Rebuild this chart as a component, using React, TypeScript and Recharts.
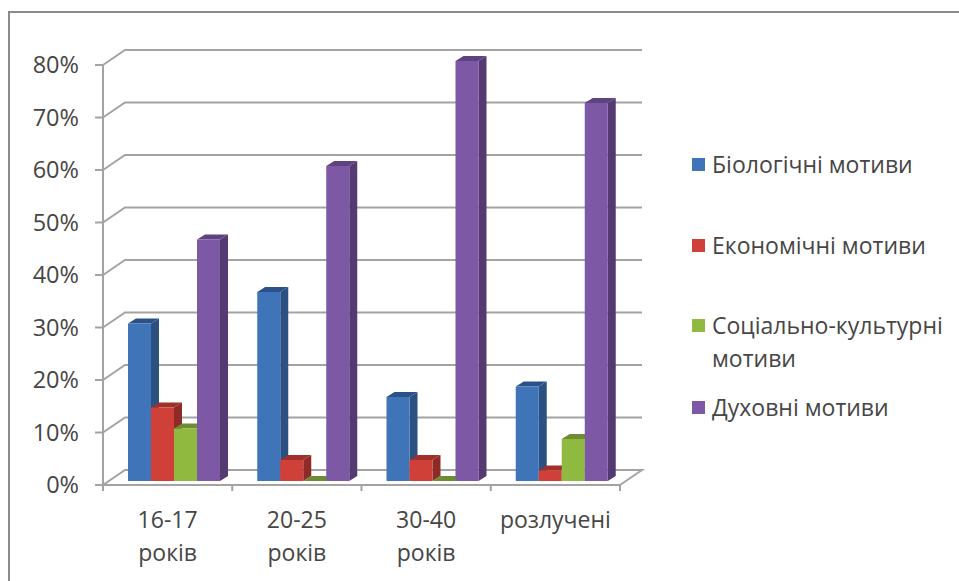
import React from "react";
import { BarChart, Bar, XAxis, YAxis, CartesianGrid, Legend } from "recharts";

const categories = ["16-17 років", "20-25 років", "30-40 років", "розлучені"];
const biological = [30, 36, 16, 18];
const economic = [14, 4, 4, 2];
const social = [10, 0, 0, 8];
const spiritual = [46, 60, 80, 72];
const yTicks = [0, 10, 20, 30, 40, 50, 60, 70, 80];

const seriesNames = ["Біологічні мотиви", "Економічні мотиви", "Соціально-культурні мотиви", "Духовні мотиви"];
const seriesColors = [
  { front: "#4074b9", side: "#2b5182", top: "#2a5288" },
  { front: "#cf4038", side: "#8f2b27", top: "#a12f2b" },
  { front: "#8fb93f", side: "#67842e", top: "#6e8d33" },
  { front: "#7d58a5", side: "#543a70", top: "#5f4280" },
];

const data = categories.map((c, i) => ({
  name: c,
  s0: biological[i],
  s1: economic[i],
  s2: social[i],
  s3: spiritual[i],
}));

const FONT = "'Open Sans', sans-serif";
const TEXT = "#464646";
const GRID = "#a3a3a3";
const PLOT = { left: 103, top: 65, width: 517, height: 420 };
const BAND = PLOT.width / categories.length;
const WALL_DX = 22;
const WALL_DY = 15;
const BAR_DX = 8;
const BAR_DY = 5;
const BAR_SHIFT_X = 7;
const BAR_SHIFT_Y = 4;

const bar3d = (idx: number) => (p: any) => {
  const c = seriesColors[idx];
  const x = p.x + BAR_SHIFT_X;
  const y = p.y - BAR_SHIFT_Y;
  const w = p.width;
  const h = p.height;
  return (
    <g>
      <polygon points={`${x + w},${y} ${x + w + BAR_DX},${y - BAR_DY} ${x + w + BAR_DX},${y + h - BAR_DY} ${x + w},${y + h}`} fill={c.side} />
      <polygon points={`${x},${y} ${x + w},${y} ${x + w + BAR_DX},${y - BAR_DY} ${x + BAR_DX},${y - BAR_DY}`} fill={c.top} />
      <rect x={x} y={y} width={w} height={h} fill={c.front} />
    </g>
  );
};

const gridLine = (p: any) => {
  const { x1, x2, y1 } = p;
  const isFloor = Math.abs(y1 - (PLOT.top + PLOT.height)) < 1;
  const pts = [`${x1},${y1}`, `${x1 + WALL_DX},${y1 - WALL_DY}`, `${x2 + WALL_DX},${y1 - WALL_DY}`];
  if (isFloor) pts.push(`${x2},${y1}`);
  return <polyline key={`g-${y1}`} points={pts.join(" ")} fill="none" stroke={GRID} strokeWidth={2} />;
};

const XTick = (p: any) => {
  const { x, y, payload, index } = p;
  const parts = String(payload.value).split(" ");
  const base = PLOT.top + PLOT.height;
  return (
    <g>
      <line x1={x + BAND / 2} x2={x + BAND / 2} y1={base} y2={base + 6} stroke={GRID} strokeWidth={2} />
      {index === 0 && <line x1={x - BAND / 2} x2={x - BAND / 2} y1={base} y2={base + 6} stroke={GRID} strokeWidth={2} />}
      <text textAnchor="middle" fontFamily={FONT} fontSize={23} fill={TEXT} y={y}>
        {parts.map((t: string, i: number) => (
          <tspan key={i} x={x} y={base + 43 + i * 33}>{t}</tspan>
        ))}
      </text>
    </g>
  );
};

const legendRows = [148, 229, 309, 391];

const LegendContent = (p: any) => (
  <div style={{ position: "absolute", left: 0, top: 0, width: 0, height: 0 }}>
    {p.payload.map((e: any, i: number) => (
      <div key={e.value} style={{ position: "absolute", left: 692, top: legendRows[i], width: 262, display: "flex", fontFamily: FONT, fontSize: 23, lineHeight: "33px", color: TEXT }}>
        <span style={{ width: 13, height: 13, marginTop: 10, marginRight: 7, flex: "none", background: e.color }} />
        <span>{e.value}</span>
      </div>
    ))}
  </div>
);

export default function App() {
  return (
    <div style={{ position: "absolute", left: 0, top: 0, width: 959, height: 581, background: "#fff", overflow: "hidden" }}>
      <div style={{ position: "absolute", left: 8, top: 11, width: 960, height: 580, border: "2px solid #8c8c8c", boxSizing: "border-box" }} />
      <BarChart
        width={959}
        height={581}
        data={data}
        margin={{ left: 0, top: PLOT.top, right: 959 - PLOT.left - PLOT.width, bottom: 0 }}
        barCategoryGap={18}
        barGap={0}
        style={{ position: "absolute", left: 0, top: 0 }}
      >
        <CartesianGrid vertical={false} horizontal={gridLine} />
        <XAxis dataKey="name" tick={<XTick />} tickLine={false} axisLine={{ stroke: GRID, strokeWidth: 2 }} interval={0} height={581 - PLOT.top - PLOT.height} />
        <YAxis
          domain={[0, 80]}
          ticks={yTicks}
          interval={0}
          width={PLOT.left}
          tickFormatter={(v: number) => `${v}%`}
          tick={{ fontFamily: FONT, fontSize: 23.5, fill: TEXT }}
          tickSize={8}
          tickMargin={16}
          tickLine={{ stroke: GRID, strokeWidth: 2 }}
          axisLine={{ stroke: GRID, strokeWidth: 2 }}
        />
        <Legend content={<LegendContent />} itemSorter={null} layout="horizontal" verticalAlign="top" wrapperStyle={{ left: 0, top: 0, width: 0, height: 0 }} />
        {seriesNames.map((n, i) => (
          <Bar key={n} dataKey={`s${i}`} name={n} fill={seriesColors[i].front} isAnimationActive={false} shape={bar3d(i)} />
        ))}
      </BarChart>
    </div>
  );
}
